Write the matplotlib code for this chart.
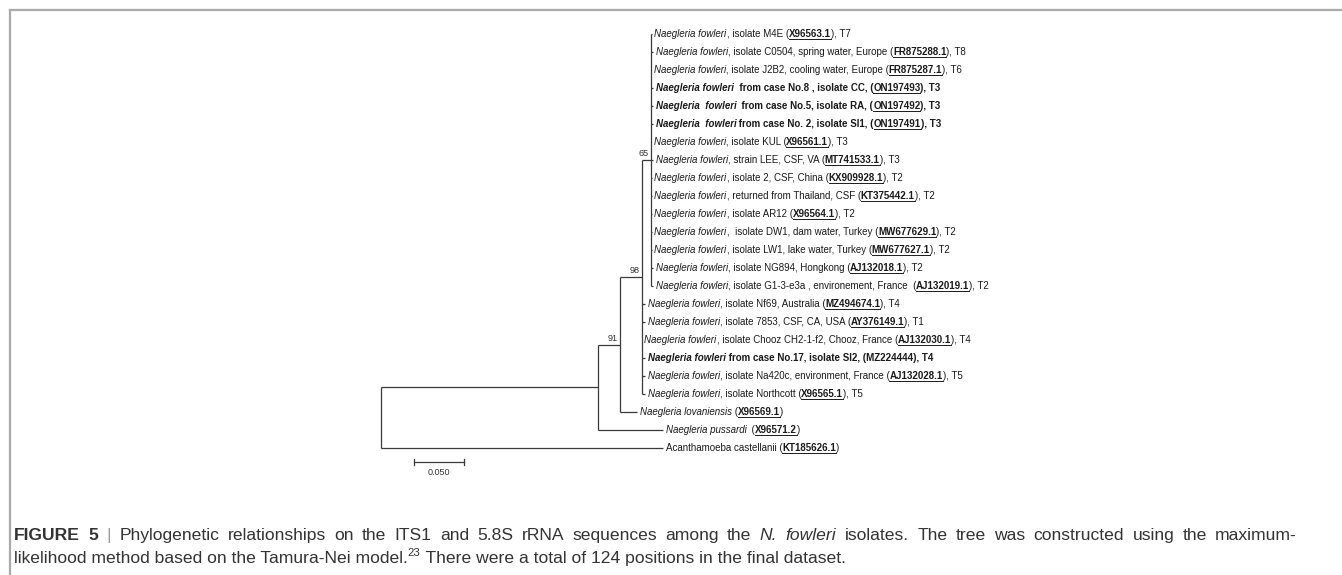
import matplotlib
matplotlib.use("Agg")
import matplotlib.pyplot as plt
from matplotlib import transforms as mtransforms
from matplotlib.font_manager import FontProperties
from matplotlib.lines import Line2D

W, H = 1342, 575

# ---- data -------------------------------------------------------------
# leaf labels as (text, style) runs; style: b = bold, i = italic, u = underline
leaf_labels = [
    [("Naegleria fowleri", "i"), (", isolate M4E (", ""), ("X96563.1", "bu"), ("), T7", "")],
    [("Naegleria fowleri", "i"), (", isolate C0504, spring water, Europe (", ""), ("FR875288.1", "bu"), ("), T8", "")],
    [("Naegleria fowleri", "i"), (", isolate J2B2, cooling water, Europe (", ""), ("FR875287.1", "bu"), ("), T6", "")],
    [("Naegleria fowleri", "bi"), ("  from case No.8 , isolate CC, (", "b"), ("ON197493", "bu"), ("), T3", "b")],
    [("Naegleria  fowleri", "bi"), ("  from case No.5, isolate RA, (", "b"), ("ON197492", "bu"), ("), T3", "b")],
    [("Naegleria  fowleri", "bi"), (" from case No. 2, isolate SI1, (", "b"), ("ON197491", "bu"), ("), T3", "b")],
    [("Naegleria fowleri", "i"), (", isolate KUL (", ""), ("X96561.1", "bu"), ("), T3", "")],
    [("Naegleria fowleri", "i"), (", strain LEE, CSF, VA (", ""), ("MT741533.1", "bu"), ("), T3", "")],
    [("Naegleria fowleri", "i"), (", isolate 2, CSF, China (", ""), ("KX909928.1", "bu"), ("), T2", "")],
    [("Naegleria fowleri", "i"), (", returned from Thailand, CSF (", ""), ("KT375442.1", "bu"), ("), T2", "")],
    [("Naegleria fowleri", "i"), (", isolate AR12 (", ""), ("X96564.1", "bu"), ("), T2", "")],
    [("Naegleria fowleri", "i"), (",  isolate DW1, dam water, Turkey (", ""), ("MW677629.1", "bu"), ("), T2", "")],
    [("Naegleria fowleri", "i"), (", isolate LW1, lake water, Turkey (", ""), ("MW677627.1", "bu"), ("), T2", "")],
    [("Naegleria fowleri", "i"), (", isolate NG894, Hongkong (", ""), ("AJ132018.1", "bu"), ("), T2", "")],
    [("Naegleria fowleri", "i"), (", isolate G1-3-e3a , environement, France  (", ""), ("AJ132019.1", "bu"), ("), T2", "")],
    [("Naegleria fowleri", "i"), (", isolate Nf69, Australia (", ""), ("MZ494674.1", "bu"), ("), T4", "")],
    [("Naegleria fowleri", "i"), (", isolate 7853, CSF, CA, USA (", ""), ("AY376149.1", "bu"), ("), T1", "")],
    [("Naegleria fowleri", "i"), (", isolate Chooz CH2-1-f2, Chooz, France (", ""), ("AJ132030.1", "bu"), ("), T4", "")],
    [("Naegleria fowleri", "bi"), (" from case No.17, isolate SI2, (MZ224444), T4", "b")],
    [("Naegleria fowleri", "i"), (", isolate Na420c, environment, France (", ""), ("AJ132028.1", "bu"), ("), T5", "")],
    [("Naegleria fowleri", "i"), (", isolate Northcott (", ""), ("X96565.1", "bu"), ("), T5", "")],
    [("Naegleria lovaniensis", "i"), (" (", ""), ("X96569.1", "bu"), (")", "")],
    [("Naegleria pussardi", "i"), ("  (", ""), ("X96571.2", "bu"), (")", "")],
    [("Acanthamoeba castellanii (", ""), ("KT185626.1", "bu"), (")", "")],
]
leaf_parent = ["n65"] * 15 + ["n98"] * 6 + ["n91", "A", "root"]
leaf_len = [0.001, 0.002, 0.0, 0.002, 0.002, 0.002, 0.0, 0.002, 0.001, 0.001,
            0.001, 0.001, 0.001, 0.002, 0.002,
            0.003, 0.003, 0.0, 0.003, 0.003, 0.003,
            0.017, 0.065, 0.282]

node_names = ["root", "A", "n91", "n98", "n65"]
node_parent = [None, "root", "A", "n91", "n98"]
node_len = [0.0, 0.217, 0.022, 0.022, 0.009]
node_boot = [None, None, 91, 98, 65]

scale_len = 0.05
scale_label = "0.050"

caption1 = [("FIGURE 5", "b"), ("|", "g"),
            ("Phylogenetic relationships on the ITS1 and 5.8S rRNA sequences among the", ""),
            ("N. fowleri", "i"),
            ("isolates. The tree was constructed using the maximum-", "")]
caption2 = [("likelihood method based on the Tamura-Nei model.", ""), ("23", "s"),
            (" There were a total of 124 positions in the final dataset.", "")]

# ---- layout -----------------------------------------------------------
root_px = 381      # pixel x of root
px_per_unit = 1000
row0_px, row_px = 34, 18.0
cap_x0, cap_x1 = 14, 1297

fig = plt.figure(figsize=(W / 100, H / 100), dpi=100)
ax = fig.add_axes([0, 0, 1, 1])
ax.set_xlim(-root_px / px_per_unit, (W - root_px) / px_per_unit)
ax.set_ylim((H - row0_px) / row_px, -row0_px / row_px)
ax.axis("off")
renderer = fig.canvas.get_renderer()
top = mtransforms.Affine2D().scale(1, -1).translate(0, H)   # top-left pixel coords

# node x positions
nx = {}
for name, par, bl in zip(node_names, node_parent, node_len):
    nx[name] = (nx[par] if par else 0.0) + bl
# node y = middle of first and last child
ny, span = {}, {}
for name in reversed(node_names):
    ys = [i for i, p in enumerate(leaf_parent) if p == name]
    ys += [ny[c] for c, p in zip(node_names, node_parent) if p == name]
    ny[name] = (min(ys) + max(ys)) / 2
    span[name] = (min(ys), max(ys))

lc = "#3a3a3a"
lw = 0.9
for name, par in zip(node_names, node_parent):
    lo, hi = span[name]
    ax.plot([nx[name], nx[name]], [lo, hi], color=lc, lw=lw, solid_capstyle="butt")
    if par:
        ax.plot([nx[par], nx[name]], [ny[name], ny[name]], color=lc, lw=lw, solid_capstyle="butt")

leaf_x = []
for i, (par, bl) in enumerate(zip(leaf_parent, leaf_len)):
    x1 = nx[par] + bl
    leaf_x.append(x1)
    if bl > 0:
        ax.plot([nx[par], x1], [i, i], color=lc, lw=lw, solid_capstyle="butt")

for name, b in zip(node_names, node_boot):
    if b is not None:
        ax.text(nx[name], ny[name], str(b), fontsize=6.5, family="Liberation Sans",
                ha="right", va="bottom", color="#333",
                transform=mtransforms.offset_copy(ax.transData, fig=fig, x=-2, y=2, units="dots"))


def make_prop(st, size, family="Liberation Sans"):
    return FontProperties(family=family, size=size * 0.65 if "s" in st else size,
                          weight="bold" if "b" in st else "normal",
                          style="italic" if "i" in st else "normal")


def run_width(txt, prop):
    a = renderer.get_text_width_height_descent("l" + txt + "l", prop, ismath=False)[0]
    b = renderer.get_text_width_height_descent("ll", prop, ismath=False)[0]
    return a - b


def draw_runs(x, y, runs, size, trans, dx=0.0, dy=0.0, color="#1a1a1a", gaps=None):
    bx, by = trans.transform((x, y))
    for txt, st in runs:
        prop = make_prop(st, size)
        yoff = dy + (size * 0.55 if "s" in st else 0)
        ax.text(x, y, txt, fontproperties=prop, ha="left", va="baseline",
                color="#999999" if "g" in st else color,
                transform=mtransforms.offset_copy(trans, fig=fig, x=dx, y=yoff, units="dots"))
        w = run_width(txt, prop)
        if "u" in st:
            uy = by + dy - 1.6
            fig.add_artist(Line2D([bx + dx, bx + dx + w], [uy, uy], lw=0.7, color=color,
                                  transform=mtransforms.IdentityTransform()))
        dx += w
    return dx


for i, runs in enumerate(leaf_labels):
    draw_runs(leaf_x[i], i, runs, 7, ax.transData, dx=2.5, dy=-3.4)

# scale bar
sb_x0, sb_y = 0.033, (462 - row0_px) / row_px
ax.plot([sb_x0, sb_x0 + scale_len], [sb_y, sb_y], color=lc, lw=lw)
for xx in (sb_x0, sb_x0 + scale_len):
    ax.plot([xx, xx], [sb_y - 0.18, sb_y + 0.18], color=lc, lw=lw)
ax.text(sb_x0 + scale_len / 2, sb_y + 0.35, scale_label, fontsize=6.5, family="Liberation Sans",
        ha="center", va="top", color="#333")

# frame
fig.add_artist(Line2D([9.5, W], [9.5, 9.5], lw=1.6, color="#aaaaaa", transform=top))
fig.add_artist(Line2D([9.5, 9.5], [9.5, H], lw=1.6, color="#aaaaaa", transform=top))

# caption, first line justified to the column width
cap_size = 12.6
words = [(w, st) for txt, st in caption1 for w in txt.split(" ")]
widths = [run_width(w, make_prop(st, cap_size)) for w, st in words]
gap = (cap_x1 - cap_x0 - sum(widths)) / (len(words) - 1)
xpos = cap_x0
for (w, st), wd in zip(words, widths):
    draw_runs(xpos, 540, [(w, st)], cap_size, top, color="#333333")
    xpos += wd + gap
draw_runs(cap_x0, 563, caption2, cap_size, top, color="#333333")

fig.savefig("out.png", dpi=100)
